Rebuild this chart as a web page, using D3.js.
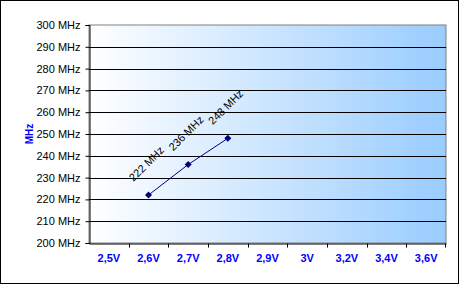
<!DOCTYPE html>
<html>
<head>
<meta charset="utf-8">
<script src="https://cdn.jsdelivr.net/npm/d3@7"></script>
<style>
  body { margin: 0; background: #fff; }
  svg { display: block; font-family: "Liberation Sans", Arial, sans-serif; }
</style>
</head>
<body>
<svg id="chart" width="461" height="285"></svg>
<script>
// categories on the x axis
var volts = ["2,5V", "2,6V", "2,7V", "2,8V", "2,9V", "3V", "3,2V", "3,4V", "3,6V"];
// measured points
var pointVolts = ["2,6V", "2,7V", "2,8V"];
var pointMhz = [222, 236, 248];
// y axis ticks
var yTicks = [200, 210, 220, 230, 240, 250, 260, 270, 280, 290, 300];

var svg = d3.select("#chart");
var margin = { top: 25, right: 15, bottom: 42, left: 89 };
var width = 446 - margin.left;
var height = 243 - margin.top;

// outer chart border
svg.append("rect")
  .attr("x", 0.5).attr("y", 0.5)
  .attr("width", 458).attr("height", 283)
  .attr("fill", "#fff")
  .attr("stroke", "#000");

var grad = svg.append("defs").append("linearGradient")
  .attr("id", "bg")
  .attr("x1", "0%").attr("x2", "100%")
  .attr("y1", "0%").attr("y2", "0%");
grad.append("stop").attr("offset", "0%").attr("stop-color", "#ffffff");
grad.append("stop").attr("offset", "100%").attr("stop-color", "#99ccff");

var g = svg.append("g")
  .attr("transform", "translate(" + margin.left + "," + margin.top + ")");

var x = d3.scaleBand().domain(volts).range([0, width]);
var y = d3.scaleLinear().domain([200, 300]).range([height, 0]);

// plot area
g.append("rect")
  .attr("width", width).attr("height", height)
  .attr("fill", "url(#bg)")
  .attr("stroke", "#808080");

// gridlines
g.selectAll(".grid")
  .data(yTicks.slice(1, -1))
  .enter().append("line")
  .attr("x1", 0).attr("x2", width)
  .attr("y1", function(d) { return Math.round(y(d)) + 0.5; })
  .attr("y2", function(d) { return Math.round(y(d)) + 0.5; })
  .attr("stroke", "#000");

// y axis
var yAxis = g.append("g")
  .attr("transform", "translate(0.5,0)")
  .call(d3.axisLeft(y).tickValues(yTicks).tickSize(4).tickPadding(5)
    .tickFormat(function(d) { return d + " MHz"; }));
yAxis.select(".domain").attr("stroke", "#000");
yAxis.selectAll(".tick line").attr("stroke", "#000");
yAxis.selectAll("text")
  .attr("fill", "#000")
  .style("font-size", "11px");

// x axis: labels centered, ticks between categories
var xAxis = g.append("g")
  .attr("transform", "translate(0," + (height + 0.5) + ")")
  .call(d3.axisBottom(x).tickSize(0).tickPadding(11));
xAxis.select(".domain").attr("stroke", "#000");
xAxis.selectAll("text")
  .attr("fill", "#0000ff")
  .style("font-size", "11px")
  .style("font-weight", "bold");

xAxis.selectAll(".sep")
  .data(volts.slice(1).concat([null]))
  .enter().append("line")
  .attr("x1", function(d) { return d ? Math.round(x(d)) + 0.5 : width - 0.5; })
  .attr("x2", function(d) { return d ? Math.round(x(d)) + 0.5 : width - 0.5; })
  .attr("y1", 0).attr("y2", 4)
  .attr("stroke", "#000");

// y axis title
svg.append("text")
  .attr("transform", "translate(33,134) rotate(-90)")
  .attr("text-anchor", "middle")
  .attr("fill", "#0000ff")
  .style("font-size", "10px")
  .style("font-weight", "bold")
  .text("MHz");

// series
var pts = pointVolts.map(function(v, i) {
  return { v: v, mhz: pointMhz[i] };
});
var cx = function(d) { return x(d.v) + x.bandwidth() / 2; };

g.append("path")
  .datum(pts)
  .attr("fill", "none")
  .attr("stroke", "#000080")
  .attr("stroke-width", 1)
  .attr("d", d3.line().x(cx).y(function(d) { return y(d.mhz); }));

g.selectAll(".marker")
  .data(pts)
  .enter().append("path")
  .attr("transform", function(d) { return "translate(" + cx(d) + "," + y(d.mhz) + ")"; })
  .attr("d", "M0,-3.5L3.5,0L0,3.5L-3.5,0Z")
  .attr("fill", "#000080");

g.selectAll(".lbl")
  .data(pts)
  .enter().append("text")
  .attr("transform", function(d) {
    return "translate(" + (cx(d) - 15) + "," + (y(d.mhz) - 13) + ") rotate(-45)";
  })
  .attr("fill", "#000")
  .style("font-size", "11px")
  .text(function(d) { return d.mhz + " MHz"; });
</script>
</body>
</html>
